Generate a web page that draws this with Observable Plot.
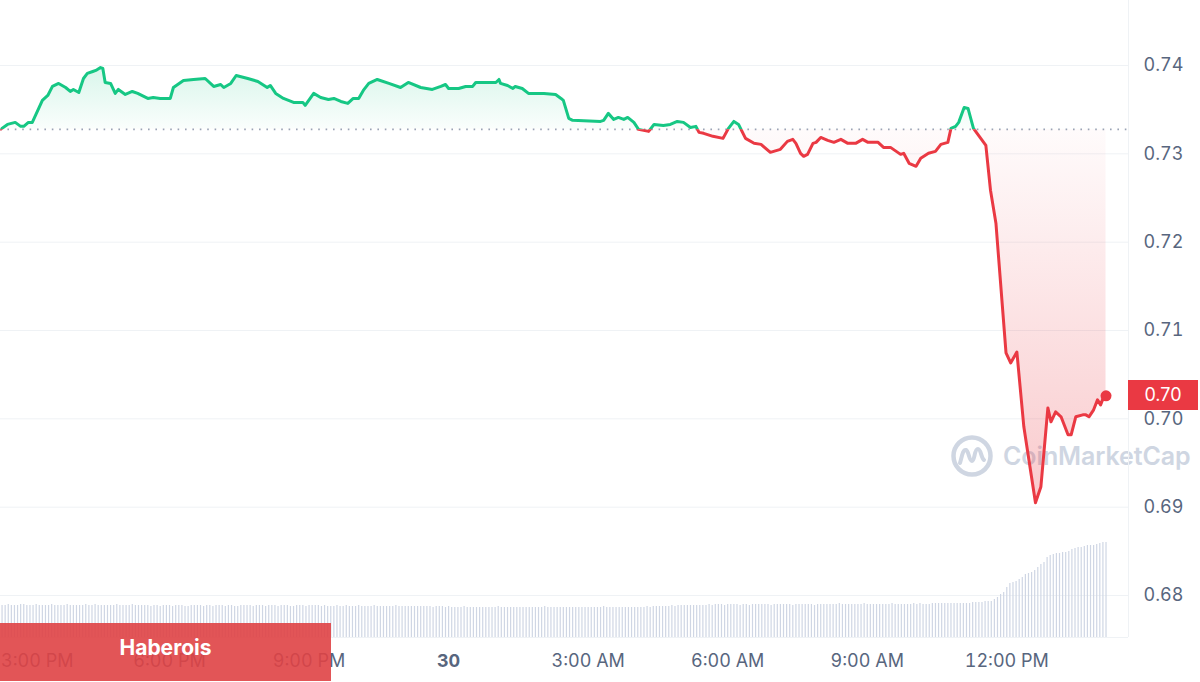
<!DOCTYPE html>
<html>
<head>
<meta charset="utf-8">
<script src="https://cdn.jsdelivr.net/npm/d3@7"></script>
<script src="https://cdn.jsdelivr.net/npm/@observablehq/plot@0.6"></script>
<style>
html,body{margin:0;padding:0;background:#fff;}
#wrap{position:relative;width:1200px;height:682px;overflow:hidden;font-family:Inter,"Noto Sans",sans-serif;}
#wrap > div{position:absolute;left:0;top:0;}
#wm{left:950px !important;top:434px !important;display:flex;align-items:center;gap:9px;color:#cfd6e2;font-size:25px;font-weight:600;letter-spacing:-0.1px;}
#lastLabel{background:#ea3943;color:#fff;font-size:18px;text-align:center;width:70px;height:30px;line-height:30px;}
#brand{top:623px !important;width:331px;height:58px;line-height:50px;background:rgba(223,66,69,0.9);color:#fff;font-weight:700;font-size:21px;text-align:center;}
</style>
</head>
<body>
<div id="wrap">
  <div id="wm">
    <svg width="44" height="44" viewBox="0 0 44 44"><circle cx="22" cy="22" r="18.5" fill="none" stroke="#cfd6e2" stroke-width="4.5"/><path d="M10,29 C12,22 13,15 16,16 C19,17 19,27 22,27 C25,27 24,15 28,15 C31,15 31,24 34,26" fill="none" stroke="#cfd6e2" stroke-width="4" stroke-linecap="round"/></svg>
    <span>CoinMarketCap</span>
  </div>
  <div id="price"></div>
  <div id="vol"></div>
  <div id="lastLabel"></div>
  <div id="brand">Haberois</div>
</div>
<script>
// ---- data (minutes relative to midnight of the 30th) ----
const priceMinutes = [
-578,-569,-559,-552,-548,-542,-537,-524,-517,-511,-503,-494,-488,-484,-477,-471,-466,-459,-455,-449,
-446,-443,-436,-430,-426,-417,-408,-401,-388,-381,-372,-359,-355,-342,-329,-314,-303,-294,-290,-281,
-274,-259,-246,-234,-230,-223,-213,-200,-188,-185,-174,-165,-155,-148,-139,-130,-123,-116,-110,-103,
-92,-77,-62,-52,-36,-21,-10,-4,0,13,22,31,35,50,61,65,67,76,83,86,
95,103,123,138,145,148,155,160,196,200,206,213,219,226,231,239,245,258,265,277,
286,295,303,312,319,323,329,341,354,361,368,374,383,394,403,415,428,437,444,448,
454,458,463,470,474,480,489,497,506,515,525,534,541,554,561,570,583,587,594,603,
609,619,628,635,644,648,654,658,665,670,677,693,699,706,719,725,733,742,757,764,
773,777,783,790,799,803,809,818,822,826,832,837,841,845,848];

const priceValues = [
0.73277,0.73333,0.73356,0.73311,0.73311,0.73356,0.73356,0.73605,0.73661,0.73763,0.73797,0.73751,0.73706,0.73729,0.73695,0.73853,0.73910,0.73932,0.73944,0.73977,
0.73966,0.73808,0.73797,0.73684,0.73729,0.73672,0.73706,0.73684,0.73627,0.73638,0.73627,0.73627,0.73751,0.73831,0.73842,0.73853,0.73763,0.73785,0.73751,0.73797,
0.73887,0.73853,0.73819,0.73751,0.73774,0.73684,0.73627,0.73582,0.73582,0.73548,0.73684,0.73638,0.73616,0.73627,0.73593,0.73571,0.73627,0.73627,0.73718,0.73797,
0.73842,0.73797,0.73751,0.73808,0.73751,0.73729,0.73763,0.73785,0.73740,0.73740,0.73763,0.73763,0.73808,0.73808,0.73808,0.73842,0.73797,0.73774,0.73740,0.73763,
0.73740,0.73684,0.73684,0.73672,0.73627,0.73605,0.73401,0.73379,0.73367,0.73379,0.73458,0.73390,0.73412,0.73390,0.73412,0.73356,0.73277,0.73254,0.73333,0.73322,
0.73333,0.73367,0.73356,0.73299,0.73311,0.73243,0.73232,0.73198,0.73175,0.73288,0.73367,0.73333,0.73175,0.73119,0.73107,0.73017,0.73051,0.73141,0.73164,0.73119,
0.73006,0.72972,0.72994,0.73119,0.73130,0.73186,0.73153,0.73130,0.73164,0.73119,0.73119,0.73164,0.73130,0.73130,0.73073,0.73073,0.72994,0.73006,0.72893,0.72859,
0.72949,0.73006,0.73028,0.73107,0.73130,0.73288,0.73311,0.73356,0.73525,0.73514,0.73288,0.73096,0.72588,0.72215,0.70746,0.70633,0.70757,0.69910,0.69051,0.69232,
0.70124,0.69966,0.70079,0.70023,0.69819,0.69819,0.70023,0.70045,0.70045,0.70023,0.70102,0.70215,0.70158,0.70249,0.70260];

// 24h volume bars, one every 4 minutes (relative units)
const volumeStartMinute = -576;
const volumeStepMinutes = 4;
const volumeValues = [
32,32,33,32,32,32,33,33,32,32,32,33,32,32,32,32,33,32,32,32,
32,33,32,32,32,32,32,33,32,32,33,32,32,32,32,32,32,33,32,32,
32,32,33,32,32,32,32,32,31,
32,32,31,32,32,32,31,32,32,32,31,31,32,32,32,32,31,32,32,31,
32,32,32,31,32,32,31,31,32,32,32,32,31,32,32,32,31,32,32,32,
31,32,32,32,31,31,32,32,32,31,32,32,32,32,31,32,31,31,31,32,
31,31,32,31,31,31,32,31,31,31,31,32,31,31,31,31,31,31,32,31,
31,31,31,31,31,31,31,31,31,31,30,31,31,31,30,31,
30,30,30,30,31,30,30,30,30,30,30,30,30,30,30,31,30,30,30,30,
30,30,30,30,30,30,30,30,30,30,31,30,30,30,30,30,30,30,30,30,
30,30,30,30,30,30,30,30,30,31,30,30,30,30,30,30,30,30,30,30,
30,30,30,31,30,31,31,31,31,31,31,32,31,32,32,32,32,32,32,32,32,
32,32,33,32,33,33,33,32,33,33,33,33,32,33,33,32,33,33,33,33,
33,33,32,33,33,33,33,33,33,32,33,33,33,33,33,33,32,33,33,33,
33,33,33,33,34,33,33,33,33,33,33,33,34,33,33,33,33,33,33,33,
33,34,33,33,33,33,33,33,34,33,34,33,33,33,34,34,34,34,34,34,
34,34,34,34,34,34,34,35,35,35,35,
36,36,36,38,40,43,45,50,54,55,56,58,60,63,64,65,67,70,73,75,
80,82,83,84,84,85,85,86,88,89,90,90,91,92,92,92,93,94,95,95];

const yTicks = [0.68, 0.69, 0.70, 0.71, 0.72, 0.73, 0.74];
const xTickMinutes = [-540, -360, -180, 0, 180, 360, 540, 720];
const xDomainMinutes = [-578, 877];

// ---- build ----
const midnight = new Date(2024, 4, 30, 0, 0, 0);
const toDate = m => new Date(midnight.getTime() + m * 60000);
const priceData = priceMinutes.map((m, i) => ({t: toDate(m), p: priceValues[i]}));
const volData = volumeValues.map((v, i) => ({t: toDate(volumeStartMinute + i * volumeStepMinutes), v}));
const basePrice = priceValues[0];
const last = priceData[priceData.length - 1];
const xDomain = xDomainMinutes.map(toDate);
const xTicks = xTickMinutes.map(toDate);
const fmtTime = d3.timeFormat("%-I:%M %p");

const GREEN = "#16c784", RED = "#ea3943";
const common = {
  width: 1200, height: 682,
  marginLeft: 0, marginRight: 72, marginTop: 0, marginBottom: 45,
  style: {background: "transparent", fontFamily: "Inter, 'Noto Sans', sans-serif", fontSize: "18px", color: "#58667e", overflow: "visible"}
};
const axisOpts = {anchor: "bottom", tickSize: 0, tickPadding: 17, label: null, fill: "#58667e"};

const price = Plot.plot({
  ...common,
  x: {type: "time", domain: xDomain, label: null},
  y: {domain: [0.68, 0.74], range: [595, 65], label: null},
  marks: [
    Plot.gridY(yTicks, {stroke: "#eff2f5", strokeOpacity: 1, strokeWidth: 1}),
    Plot.ruleX([xDomain[1]], {stroke: "#eff2f5", strokeWidth: 1}),
    Plot.areaY(priceData, {x: "t", y1: () => basePrice, y2: "p", fill: "url(#gradGreen)"}),
    Plot.areaY(priceData, {x: "t", y1: () => basePrice, y2: "p", fill: "url(#gradRed)"}),
    Plot.ruleY([basePrice], {stroke: "#9aa3b5", strokeWidth: 1.6, strokeDasharray: "1.6,5.8"}),
    Plot.line(priceData, {x: "t", y: "p", stroke: GREEN, strokeWidth: 3, strokeLinejoin: "round"}),
    Plot.line(priceData, {x: "t", y: "p", stroke: RED, strokeWidth: 3, strokeLinejoin: "round"}),
    Plot.dot([last], {x: "t", y: "p", r: 5.5, fill: RED}),
    Plot.axisY(yTicks, {anchor: "right", tickSize: 0, tickPadding: 15, tickFormat: d => d.toFixed(2), label: null, fill: "#58667e"}),
    // first label kept inside the left edge, as in the original
    Plot.axisX(xTicks.slice(0, 1), {...axisOpts, tickFormat: fmtTime, textAnchor: "start", dx: -29}),
    Plot.axisX(xTicks.slice(1).filter(d => d.getHours() !== 0), {...axisOpts, tickFormat: fmtTime}),
    Plot.axisX(xTicks.filter(d => d.getHours() === 0), {...axisOpts, tickFormat: d => String(d.getDate()), fontWeight: "bold"})
  ]
});
document.getElementById("price").appendChild(price);

// gradients and clipping at the baseline, positioned with the plot's own y scale
const ys = price.scale("y");
const yb = ys.apply(basePrice);
const defs = document.createElementNS("http://www.w3.org/2000/svg", "defs");
defs.innerHTML = `
<linearGradient id="gradGreen" gradientUnits="userSpaceOnUse" x1="0" x2="0" y1="${ys.apply(0.74)}" y2="${yb}">
  <stop offset="0" stop-color="${GREEN}" stop-opacity="0.17"/>
  <stop offset="1" stop-color="${GREEN}" stop-opacity="0.02"/>
</linearGradient>
<linearGradient id="gradRed" gradientUnits="userSpaceOnUse" x1="0" x2="0" y1="${yb}" y2="${ys.apply(0.69)}">
  <stop offset="0" stop-color="${RED}" stop-opacity="0.02"/>
  <stop offset="1" stop-color="${RED}" stop-opacity="0.27"/>
</linearGradient>
<clipPath id="clipAbove"><rect x="0" y="0" width="1200" height="${yb}"/></clipPath>
<clipPath id="clipBelow"><rect x="0" y="${yb}" width="1200" height="${682 - yb}"/></clipPath>`;
price.insertBefore(defs, price.firstChild);
const areas = price.querySelectorAll('g[aria-label="area"]');
if (areas[0]) areas[0].setAttribute("clip-path", "url(#clipAbove)");
if (areas[1]) areas[1].setAttribute("clip-path", "url(#clipBelow)");
const lines = price.querySelectorAll('g[aria-label="line"]');
if (lines[0]) lines[0].setAttribute("clip-path", "url(#clipAbove)");
if (lines[1]) lines[1].setAttribute("clip-path", "url(#clipBelow)");

// volume bars
const vol = Plot.plot({
  ...common,
  x: {type: "time", domain: xDomain, axis: null},
  y: {domain: [0, 100], range: [637, 537], axis: null},
  marks: [
    Plot.ruleY([0], {stroke: "#eff2f5", strokeWidth: 1}),
    Plot.ruleX(volData, {x: "t", y1: 0, y2: "v", stroke: "#cfd6e4", strokeWidth: 1.2})
  ]
});
document.getElementById("vol").appendChild(vol);

// current price tag on the axis
const lbl = document.getElementById("lastLabel");
lbl.textContent = last.p.toFixed(2);
lbl.style.left = "1128px";
lbl.style.top = (ys.apply(last.p) - 15) + "px";
</script>
</body>
</html>
